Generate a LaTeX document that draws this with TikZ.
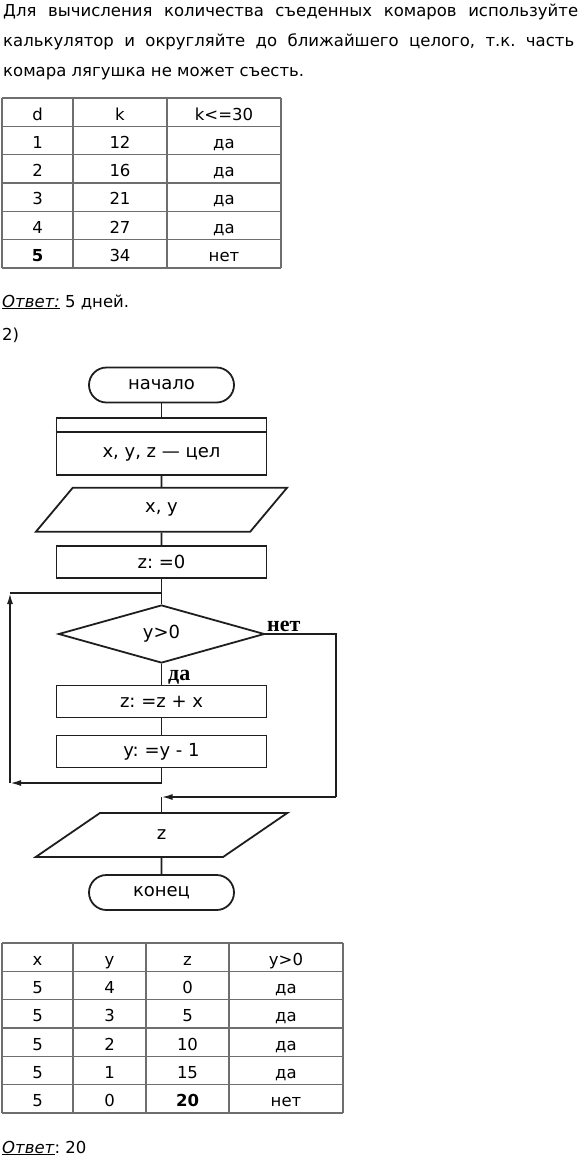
\documentclass[tikz,border=0pt]{standalone}
\usepackage{fontspec}
\setmainfont{DejaVu Sans}
\newfontfamily\labelfont{Liberation Serif}
\usetikzlibrary{arrows.meta,positioning,calc,shapes.geometric}
\definecolor{ink}{HTML}{1E1E1E}
\definecolor{rule}{HTML}{6E6E6E}
\frenchspacing
\tikzset{
  proc/.style={draw=ink, line width=1.8pt, minimum width=210pt, minimum height=32pt, inner sep=0pt, font=\fontsize{18}{20}\selectfont},
  term/.style={draw=ink, line width=1.8pt, rounded corners=17.5pt, minimum width=145pt, minimum height=35pt, inner sep=0pt, font=\fontsize{18}{20}\selectfont},
  iobox/.style={trapezium, trapezium left angle=63.4, trapezium right angle=116.6, trapezium stretches=true, draw=ink, line width=1.8pt, minimum width=252pt, minimum height=44pt, inner sep=0pt, font=\fontsize{18}{20}\selectfont},
  decision/.style={diamond, draw=ink, line width=1.8pt, minimum width=206pt, minimum height=58pt, inner sep=0pt, font=\fontsize{18}{20}\selectfont},
  flow/.style={draw=ink, line width=1.8pt},
  arrow/.style={flow, -{Latex[length=11pt,width=6pt]}},
  branch/.style={font=\labelfont\bfseries\fontsize{22}{24}\selectfont, inner sep=0pt, anchor=base west},
  body/.style={font=\fontsize{16.5}{20}\selectfont, inner sep=0pt, anchor=base west},
  cell/.style={font=\fontsize{16.5}{18}\selectfont, inner sep=0pt, anchor=base},
  grid/.style={draw=rule, line width=1.2pt}
}
\begin{document}
\begin{tikzpicture}[x=1pt, y=-1pt]
\useasboundingbox (0,0) rectangle (581,1157);

% text above the first table
\node[body] (line1) at (3,16.7) {\makebox[575pt][s]{Для вычисления количества съеденных комаров используйте}};
\node[body] (line2) at (3,46.7) {\makebox[571pt][s]{калькулятор и округляйте до ближайшего целого, т.к. часть}};
\node[body] (line3) at (3,76.7) {комара лягушка не может съесть.};

% first table
\foreach \r in {0,...,6}
  \draw[grid] (2,{98+28.33*\r}) -- (281,{98+28.33*\r});
\foreach \x in {2,73,167,281}
  \draw[grid] (\x,98) -- (\x,268);
\foreach \a/\b/\c [count=\r] in {d/k/k<=30, 1/12/да, 2/16/да, 3/21/да, 4/27/да, \textbf{5}/34/нет} {
  \node[cell] (d\r) at (37.5,{98+28.33*(\r-1)+22}) {\a};
  \node[cell] (k\r) at (120,{98+28.33*(\r-1)+22}) {\b};
  \node[cell] (ok\r) at (224,{98+28.33*(\r-1)+22}) {\c};
}

\node[body] (ans1) at (2,307) {\underline{\textit{Ответ:}} 5 дней.};
\node[body] (part2) at (2,340) {2)};

% flowchart
\node[term] (start) at (161.5,385) {начало};
\node[proc, minimum height=57pt] (decl) at (161.5,446.5) {};
\node[font=\fontsize{18}{20}\selectfont, inner sep=0pt] (decltxt) at (161.5,454) {x, y, z — цел};
\draw[flow] ([yshift=-14.7pt]decl.north west) -- ([yshift=-14.7pt]decl.north east);
\node[iobox] (inp) at (161.5,509.7) {x, y};
\node[proc] (init) at (161.5,562) {z: =0};
\coordinate (join) at (161.5,593);
\node[decision] (test) at (161.5,634) {y>0};
\node[proc] (add) at (161.5,701.5) {z: =z + x};
\node[proc] (dec) at (161.5,751.5) {y: =y - 1};
\coordinate (back) at (161.5,783);
\coordinate (loopbl) at (10,783);
\coordinate (looptl) at (10,593);
\coordinate (exitr) at (336,797);
\coordinate (exit) at (161.5,797);
\node[iobox] (outp) at (161.5,835) {z};
\node[term] (stop) at (161.5,892.5) {конец};

\draw[flow] (start) -- (decl);
\draw[flow] (decl) -- (inp);
\draw[flow] (inp) -- (init);
\draw[flow] (init) -- (join) -- (test);
\draw[flow] (test) -- (add);
\draw[flow] (add) -- (dec);
\draw[arrow] (dec) -- (back) -- (loopbl);
\draw[arrow] (loopbl) -- (looptl);
\draw[flow] (looptl) -- (join);
\draw[flow] (test.east) -| (exitr);
\draw[arrow] (exitr) -- (exit);
\draw[flow] (exit) -- (outp);
\draw[flow] (outp) -- (stop);

\node[branch] (nolbl) at (267,631) {нет};
\node[branch] (yeslbl) at (168,680) {да};

% second table
\foreach \r in {0,...,6}
  \draw[grid] (2,{943+28.33*\r}) -- (343,{943+28.33*\r});
\foreach \x in {2,73,146,229,343}
  \draw[grid] (\x,943) -- (\x,1113);
\foreach \a/\b/\c/\d [count=\r] in {x/y/z/y>0, 5/4/0/да, 5/3/5/да, 5/2/10/да, 5/1/15/да, 5/0/\textbf{20}/нет} {
  \node[cell] (x\r) at (37.5,{943+28.33*(\r-1)+22}) {\a};
  \node[cell] (y\r) at (109.5,{943+28.33*(\r-1)+22}) {\b};
  \node[cell] (z\r) at (187.5,{943+28.33*(\r-1)+22}) {\c};
  \node[cell] (pos\r) at (286,{943+28.33*(\r-1)+22}) {\d};
}

\node[body] (ans2) at (2,1153) {\underline{\textit{Ответ}}: 20};
\end{tikzpicture}
\end{document}
